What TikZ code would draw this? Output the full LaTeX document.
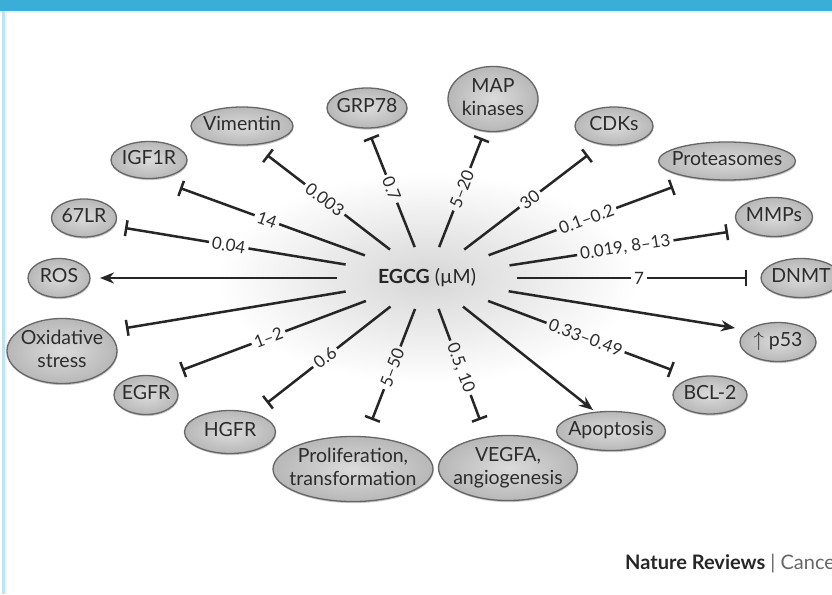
\documentclass[tikz,border=0pt]{standalone}
\usepackage{fontspec}
\setmainfont{Lato}
\usetikzlibrary{arrows.meta,shapes.geometric,shadows}
\definecolor{hdrblue}{HTML}{3AAED6}
\definecolor{sideblue}{HTML}{C2E1F2}
\definecolor{nodeedge}{HTML}{666666}
\definecolor{inkc}{HTML}{262626}
\definecolor{txtc}{HTML}{2C2C2C}
\newcommand\zw[1]{\makebox[0pt]{\begin{tabular}{@{}c@{}}#1\end{tabular}}}
\newcommand\inhlab[3]{%
  \path (hub) -- (e#1) node[lbl, pos=.53] (l#1) {#2};
  \draw[seg] (hub) -- (l#1);
  \draw[seg, #3] (l#1) -- (e#1);
}
\begin{document}
\begin{tikzpicture}[x=1pt,y=-1pt,
  target/.style={ellipse, draw=nodeedge, line width=1.3pt,
    inner color=black!14, outer color=black!28, inner sep=0pt, text=txtc,
    font=\fontsize{19.5}{23}\selectfont,
    drop shadow={shadow xshift=0.6pt, shadow yshift=-1.6pt, fill=black, opacity=0.22}},
  tgt/.style 2 args={target, minimum width=#1pt, minimum height=#2pt},
  seg/.style={line width=2.5pt, draw=inkc},
  bartip/.style={-{Bar[width=16pt]}},
  arrtip/.style={-{Stealth[length=14pt,width=11pt]}},
  lbl/.style={sloped, font=\fontsize{17}{19}\selectfont, text=txtc, inner xsep=3pt, inner ysep=1pt}
]
\useasboundingbox (0,0) rectangle (832,594);
\clip (0,0) rectangle (832,594);
\fill[white] (0,0) rectangle (832,594);
% frame
\fill[hdrblue] (0,0) rectangle (832,11);
\fill[sideblue!45] (0,11) rectangle (832,13);
\fill[sideblue] (1.7,11) rectangle (5.3,594);
\fill[sideblue!35] (5.3,13) rectangle (6.7,594);
% glow
\coordinate (hc) at (427,278);
\shade[inner color=black!16, outer color=white] (hc) ellipse [x radius=210pt, y radius=105pt];
% hub
\node[ellipse, minimum width=180pt, minimum height=62pt, inner sep=0pt,
      font=\fontsize{19.5}{23}\selectfont, text=inkc] (hub) at (hc) {\textbf{EGCG} (µM)};
% targets
\node[tgt={102}{38}] (vim)   at (242,126) {\zw{Vimentin}};
\node[tgt={76}{37}]  (igf)   at (149,160) {\zw{IGF1R}};
\node[tgt={65}{38}]  (lr)    at (84,218)  {\zw{67LR}};
\node[tgt={62}{39}]  (ros)   at (59,278)  {\zw{ROS}};
\node[tgt={110}{64}] (oxs)   at (62,351)  {\zw{Oxidative\\stress}};
\node[tgt={64}{39}]  (egfr)  at (146,395) {\zw{EGFR}};
\node[tgt={91}{43}]  (hgfr)  at (230,432) {\zw{HGFR}};
\node[tgt={160}{63}] (prol)  at (353,469) {\zw{Proliferation,\\transformation}};
\node[tgt={139}{61}] (vegfa) at (508,468) {\zw{VEGFA,\\angiogenesis}};
\node[tgt={109}{39}] (apo)   at (611,431) {\zw{Apoptosis}};
\node[tgt={74}{38}]  (bcl)   at (710,395) {\zw{BCL-2}};
\node[tgt={76}{39}]  (p53)   at (778,342) {\zw{$\uparrow$ p53}};
\node[tgt={80}{39}]  (dnmt)  at (801,278) {\zw{DNMT}};
\node[tgt={77}{39}]  (mmp)   at (774,217) {\zw{MMPs}};
\node[tgt={137}{38}] (prot)  at (727,161) {\zw{Proteasomes}};
\node[tgt={78}{38}]  (cdk)   at (614,126) {\zw{CDKs}};
\node[tgt={90}{55}]  (map)   at (493,99)  {\zw{MAP\\kinases}};
\node[tgt={80}{40}]  (grp)   at (367,108) {\zw{GRP78}};
% connector ends
\coordinate (evim)  at (267,155);
\coordinate (eigf)  at (180,188);
\coordinate (elr)   at (125,228);
\coordinate (eros)  at (100,278);
\coordinate (eoxs)  at (126,328);
\coordinate (eegfr) at (182,370);
\coordinate (ehgfr) at (267,403);
\coordinate (eprol) at (372,420);
\coordinate (evegfa) at (480,420);
\coordinate (eapo)  at (593,410);
\coordinate (ebcl)  at (672,370);
\coordinate (ep53)  at (735,328);
\coordinate (ednmt) at (747,278);
\coordinate (emmp)  at (728,232);
\coordinate (eprot) at (673,187);
\coordinate (ecdk)  at (588,155);
\coordinate (emap)  at (482,138);
\coordinate (egrp)  at (371,137);
% connectors
\inhlab{vim}{0.003}{bartip}
\inhlab{igf}{14}{bartip}
\inhlab{lr}{0.04}{bartip}
\draw[seg, arrtip] (hub) -- (eros);
\draw[seg, bartip] (hub) -- (eoxs);
\inhlab{egfr}{1–2}{bartip}
\inhlab{hgfr}{0.6}{bartip}
\inhlab{prol}{5–50}{bartip}
\inhlab{vegfa}{0.5, 10}{bartip}
\draw[seg, arrtip] (hub) -- (eapo);
\inhlab{bcl}{0.33–0.49}{bartip}
\draw[seg, arrtip] (hub) -- (ep53);
\inhlab{dnmt}{7}{bartip}
\inhlab{mmp}{0.019, 8–13}{bartip}
\inhlab{prot}{0.1–0.2}{bartip}
\inhlab{cdk}{30}{bartip}
\inhlab{map}{5–20}{bartip}
\inhlab{grp}{0.7}{bartip}
% footer
\node[anchor=base west, inner sep=0pt, font=\fontsize{20}{24}\selectfont] (nr) at (625,569)
  {\textcolor{inkc}{\textbf{Nature Reviews}} \textcolor{black!60}{| Cancer}};
\end{tikzpicture}
\end{document}
